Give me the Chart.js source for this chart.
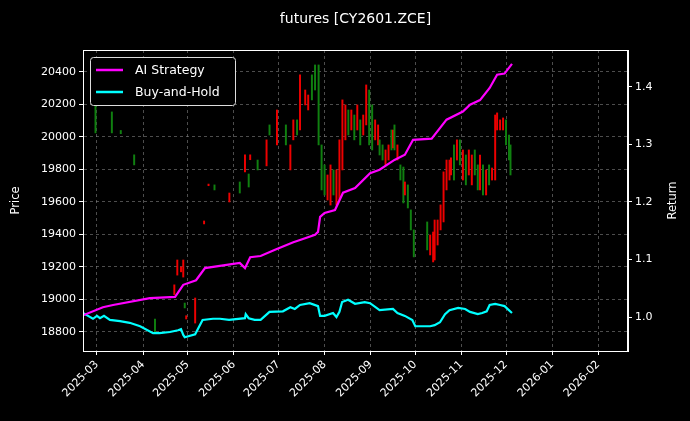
<!DOCTYPE html>
<html><head><meta charset="utf-8">
<script src="https://cdn.jsdelivr.net/npm/chart.js@4/dist/chart.umd.min.js"></script>
<style>html,body{margin:0;padding:0;background:#000}#w{width:690px;height:421px}</style>
</head><body><div id="w"><canvas id="c" width="690" height="421"></canvas></div>
<script>
// days are counted from 2025-03-01
const candleDays = [-1,10,16,25,39,52,54,56.5,58,59,60,66,72,75,79,89,96,99.5,102,103,108,
114,116,121,127,130,132,134.5,136.5,140,142,144.5,146.6,149,151,153,155,157,159,161,163,165,167,169,171,173,175,177,179,181,183,185,187,189,190,192,194,196,198,199,200,202,204,206,207,209,211,213,
222,224,226,227,229,231,233,235,237,238,240,242,244,246,248,250,252,254,256,257.5,259.5,261.6,263.6,265.6,267.7,269,271,273,275,277,278];
const candleLow = [20025,20025,20020,19828,18794,19030,19150,19170,19138,18948,18880,18855,19465,19700,19674,19600,19655,19785,19692,19860,19797,
19822,20012,19951,19951,19797,19982,20012,20043,20197,20166,20228,20289,19951,19674,19643,19612,19581,19643,19581,19612,19797,19982,20012,20043,19982,20043,19951,20012,20074,19951,19920,19982,19951,19889,19858,19828,19858,19920,19932,19920,19858,19735,19594,19643,19563,19428,19262,
19305,19274,19231,19243,19335,19428,19477,19674,19735,19766,19735,19858,19828,19735,19705,19766,19705,19766,19674,19674,19643,19643,19705,19735,19735,20043,20043,20043,19951,19858,19766];
const candleHigh = [20197,20154,20040,19890,18880,19090,19243,19200,19243,18978,18900,19009,19483,19710,19705,19655,19723,19890,19772,19890,19858,
19982,20074,20166,20074,19951,20105,20105,20382,20289,20258,20382,20443,20443,19951,19828,19766,19828,19797,19797,19982,20228,20197,20166,20166,20135,20197,20105,20135,20320,20289,20197,20105,20074,19982,19951,19920,19951,20043,20043,20074,19951,19828,19815,19723,19705,19551,19428,
19477,19397,19415,19489,19489,19582,19785,19858,19858,19871,19951,19982,19982,19920,19889,19920,19889,19920,19828,19889,19828,19797,19828,19809,20135,20148,20105,20117,20105,20012,19951];
const candleUp = [1,1,1,1,1,0,0,0,0,1,0,0,0,0,1,0,1,0,1,0,1,
0,1,0,1,0,0,1,0,0,0,1,1,1,1,1,0,0,1,0,0,0,0,1,0,1,0,1,0,0,1,1,0,0,1,1,0,0,1,0,1,0,1,1,0,1,1,1,
1,0,0,0,0,0,0,0,0,0,1,0,1,0,1,0,0,1,1,0,1,0,1,0,0,0,0,0,1,1,1];

const aiDays = [-9.4,4,10.8,35.6,52.5,58,66.6,72.6,96,99.5,103,110,119.7,132,136.5,146.6,148.6,150,153,160,165.4,173.5,183.6,190,200,207,212.5,225,235,246,250.8,257.5,264,269,274,279];
const aiRet  = [1.003,1.017,1.021,1.033,1.035,1.056,1.064,1.085,1.094,1.085,1.104,1.106,1.117,1.130,1.134,1.143,1.148,1.174,1.181,1.186,1.216,1.224,1.250,1.256,1.273,1.282,1.308,1.310,1.343,1.357,1.369,1.377,1.398,1.421,1.423,1.440];
const bhDays = [-9.4,-6,-2.7,0,2,4.7,8.7,15.5,22,29,37.7,42,49,54.5,56.5,58,59,66,71,78,82.7,88.8,99.5,100,102,106,110,116,125,130,133,136.5,143,148.6,150,153,158.7,161,163,164.8,168.8,173.5,180,183.6,190,199,202,207,212,214,224,227,230.6,234,237,242.8,247.5,250.8,256,259,262,264,267.7,271,274,279];
const bhRet  = [1.007,1.002,0.997,1.002,0.998,1.002,0.995,0.993,0.990,0.984,0.972,0.972,0.974,0.977,0.979,0.969,0.965,0.970,0.995,0.997,0.997,0.995,0.998,1.005,0.998,0.995,0.995,1.009,1.010,1.017,1.014,1.021,1.024,1.019,1.002,1.002,1.007,1.000,1.009,1.026,1.030,1.023,1.026,1.024,1.012,1.014,1.007,1.002,0.995,0.984,0.984,0.986,0.991,1.005,1.012,1.016,1.014,1.009,1.005,1.007,1.010,1.021,1.023,1.021,1.019,1.007];

const monthTicks = ['2025-03','2025-04','2025-05','2025-06','2025-07','2025-08','2025-09','2025-10','2025-11','2025-12','2026-01','2026-02'];
const priceTicks = [18800,19000,19200,19400,19600,19800,20000,20200,20400];
const retTicks = [1.0,1.1,1.2,1.3,1.4];

const base = Date.UTC(2025,2,1);
const monthDay = m => (Date.UTC(+m.slice(0,4), +m.slice(5,7)-1, 1) - base)/86400000;

Chart.defaults.font.family = 'DejaVu Sans';
Chart.defaults.color = '#fff';

const candleData = candleDays.map((d,i)=>({x:d, y:[candleLow[i], candleHigh[i]]}));
const candleColors = candleUp.map(u=>u? '#108010' : '#ee0000');
const GRID = 'rgba(140,140,140,0.55)';

const decoPlugin = {
  id:'deco',
  afterDraw(chart){
    const ctx = chart.ctx, a = chart.chartArea;
    ctx.save();
    // frame
    ctx.strokeStyle='#fff'; ctx.lineWidth=1;
    ctx.strokeRect(Math.round(a.left)+0.5, Math.round(a.top)+0.5, Math.round(a.right-a.left)-1, Math.round(a.bottom-a.top));
    // title
    ctx.fillStyle='#fff'; ctx.font='14px DejaVu Sans'; ctx.textAlign='center'; ctx.textBaseline='middle';
    ctx.fillText('futures [CY2601.ZCE]', (a.left+a.right)/2, 19);
    // axis titles
    ctx.font='11.5px DejaVu Sans';
    const cy=(a.top+a.bottom)/2;
    ctx.save(); ctx.translate(16, cy); ctx.rotate(-Math.PI/2); ctx.fillText('Price',0,0); ctx.restore();
    ctx.save(); ctx.translate(673, cy); ctx.rotate(-Math.PI/2); ctx.fillText('Return',0,0); ctx.restore();
    // legend
    const items = chart.data.datasets.filter(d=>d.type==='line');
    const x0=a.left+7, y0=a.top+7, w=145, h=48;
    ctx.fillStyle='#000'; ctx.strokeStyle='#ddd'; ctx.lineWidth=1;
    ctx.beginPath(); ctx.roundRect(x0+0.5,y0+0.5,w,h,3); ctx.fill(); ctx.stroke();
    ctx.font='12.5px DejaVu Sans'; ctx.textAlign='left';
    items.forEach((d,i)=>{
      const yy=y0+13+i*22;
      ctx.strokeStyle=d.borderColor; ctx.lineWidth=2.5;
      ctx.beginPath(); ctx.moveTo(x0+6,yy); ctx.lineTo(x0+33,yy); ctx.stroke();
      ctx.fillStyle='#fff'; ctx.fillText(d.label, x0+45, yy+1);
    });
    ctx.restore();
  }
};
const bgPlugin = {id:'bg', beforeDraw(c){c.ctx.save();c.ctx.fillStyle='#000';c.ctx.fillRect(0,0,c.width,c.height);c.ctx.restore();}};

new Chart(document.getElementById('c'), {
  type:'bar',
  data:{datasets:[
    {type:'line', label:'AI Strategy', data:aiDays.map((d,i)=>({x:d,y:aiRet[i]})), yAxisID:'yR', borderColor:'#ff00ff', borderWidth:2.2, pointRadius:0, tension:0},
    {type:'line', label:'Buy-and-Hold', data:bhDays.map((d,i)=>({x:d,y:bhRet[i]})), yAxisID:'yR', borderColor:'#00ffff', borderWidth:2.2, pointRadius:0, tension:0},
    {type:'bar', label:'Price', data:candleData, yAxisID:'y', backgroundColor:candleColors, barThickness:1.3, order:5}
  ]},
  options:{
    responsive:false, animation:false,
    layout:{padding:{top:50, right:0, left:0, bottom:0}},
    plugins:{legend:{display:false}, tooltip:{enabled:false}},
    scales:{
      x:{type:'linear', offset:false, min:-9.4, max:357,
        afterBuildTicks(s){ s.ticks = monthTicks.map(m=>({value:monthDay(m), label:m})); },
        ticks:{callback:(v,i,t)=>t[i].label, maxRotation:45, minRotation:45, autoSkip:false, font:{size:11}, color:'#fff'},
        grid:{offset:false, color:GRID, tickColor:'#fff', tickLength:4, drawTicks:true},
        border:{color:'#fff', dash:[3,3]},
        afterFit(s){ s.height = 70; }
      },
      y:{position:'left', min:18683, max:20535,
        afterBuildTicks(s){ s.ticks = priceTicks.map(v=>({value:v})); },
        ticks:{font:{size:11}, color:'#fff', callback:v=>String(v)},
        grid:{color:GRID, tickColor:'#fff', tickLength:4},
        border:{color:'#fff', dash:[3,3]},
        afterFit(s){ s.width = 83; }
      },
      yR:{position:'right', min:0.941, max:1.464,
        afterBuildTicks(s){ s.ticks = retTicks.map(v=>({value:v})); },
        ticks:{font:{size:11}, color:'#fff', callback:v=>v.toFixed(1)},
        grid:{drawOnChartArea:false, tickColor:'#fff', tickLength:4},
        border:{color:'#fff'},
        afterFit(s){ s.width = 62; }
      }
    }
  },
  plugins:[bgPlugin, decoPlugin]
});
</script></body></html>
